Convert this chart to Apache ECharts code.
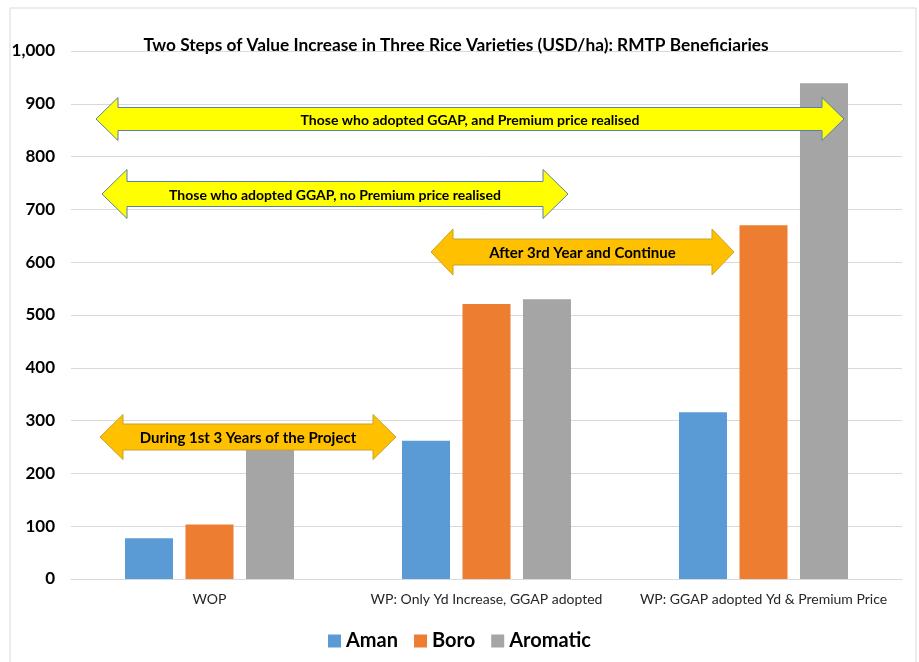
<!DOCTYPE html>
<html><head><meta charset="utf-8">
<script src="https://cdn.jsdelivr.net/npm/echarts@6/dist/echarts.min.js"></script>
<style>html,body{margin:0;padding:0;background:#fff}#c{width:919px;height:662px}</style>
</head><body><div id="c"></div>
<script>
const categories = ['WOP', 'WP: Only Yd Increase, GGAP adopted', 'WP: GGAP adopted Yd & Premium Price'];
const aman = [77, 262, 316];
const boro = [103, 521, 670];
const aromatic = [247, 530, 939];
const yTicks = [0, 100, 200, 300, 400, 500, 600, 700, 800, 900, 1000];
const titleText = 'Two Steps of Value Increase in Three Rice Varieties (USD/ha): RMTP Beneficiaries';
const arrowTexts = [
  'Those who adopted GGAP, and Premium price realised',
  'Those who adopted GGAP, no Premium price realised',
  'After 3rd Year and Continue',
  'During 1st 3 Years of the Project'
];

const FONT = 'Lato, "Open Sans", sans-serif';

function dblArrow(x1, x2, cy, shaftH, headH, headL, fill, stroke, text, fs) {
  const st = cy - shaftH / 2, sb = cy + shaftH / 2, ht = cy - headH / 2, hb = cy + headH / 2;
  return [{
    type: 'polygon', z: 100,
    shape: { points: [[x1, cy], [x1 + headL, ht], [x1 + headL, st], [x2 - headL, st], [x2 - headL, ht], [x2, cy], [x2 - headL, hb], [x2 - headL, sb], [x1 + headL, sb], [x1 + headL, hb]] },
    style: { fill: fill, stroke: stroke, lineWidth: 1 }
  }, {
    type: 'text', z: 101, x: (x1 + x2) / 2, y: cy + 1,
    style: { text: text, fill: '#000', font: 'bold ' + fs + 'px ' + FONT, align: 'center', verticalAlign: 'middle' }
  }];
}

const chart = echarts.init(document.getElementById('c'), null, { renderer: 'canvas' });
const seriesBase = { type: 'bar', barGap: '26%', barCategoryGap: '39%' };
chart.setOption({
  animation: false,
  backgroundColor: '#fff',
  title: {
    text: titleText, left: 451, top: 32, textAlign: 'center',
    textStyle: { fontFamily: FONT, fontWeight: 'bold', fontSize: 17.3, color: '#000' }
  },
  grid: { left: 71, right: 17, top: 51, bottom: 83 },
  legend: {
    bottom: 6, left: 'center', itemWidth: 13, itemHeight: 13, itemGap: 16,
    icon: 'rect',
    textStyle: { fontFamily: FONT, fontWeight: 'bold', fontSize: 20, color: '#000' },
    data: ['Aman', 'Boro', 'Aromatic']
  },
  xAxis: {
    type: 'category', data: categories,
    axisLine: { lineStyle: { color: '#D9D9D9' } },
    axisTick: { show: false },
    axisLabel: { interval: 0, fontFamily: FONT, fontSize: 14, color: '#262626', margin: 13 }
  },
  yAxis: {
    type: 'value', min: yTicks[0], max: yTicks[yTicks.length - 1], interval: 100,
    axisLine: { show: false }, axisTick: { show: false },
    splitLine: { lineStyle: { color: '#D9D9D9' } },
    axisLabel: {
      fontFamily: FONT, fontWeight: 'bold', fontSize: 17, color: '#000', margin: 16,
      formatter: v => v.toLocaleString('en-US')
    }
  },
  series: [
    Object.assign({ name: 'Aman', data: aman, itemStyle: { color: '#5B9BD5' } }, seriesBase),
    Object.assign({ name: 'Boro', data: boro, itemStyle: { color: '#ED7D31' } }, seriesBase),
    Object.assign({ name: 'Aromatic', data: aromatic, itemStyle: { color: '#A5A5A5' } }, seriesBase)
  ],
  graphic: [
    { type: 'rect', z: -1, shape: { x: 10, y: 8, width: 906, height: 670 }, style: { fill: 'none', stroke: '#D9D9D9', lineWidth: 1 } }
  ].concat(
    dblArrow(96, 844, 119, 23, 43, 22, '#FFFF00', '#5B7FA8', arrowTexts[0], 14),
    dblArrow(102, 568, 194, 25, 49, 25, '#FFFF00', '#5B7FA8', arrowTexts[1], 14),
    dblArrow(431, 734, 252, 26, 46, 22, '#FFC000', '#C9A227', arrowTexts[2], 15),
    dblArrow(100, 396, 437, 26, 45, 23, '#FFC000', '#C9A227', arrowTexts[3], 15)
  )
});
</script></body></html>
